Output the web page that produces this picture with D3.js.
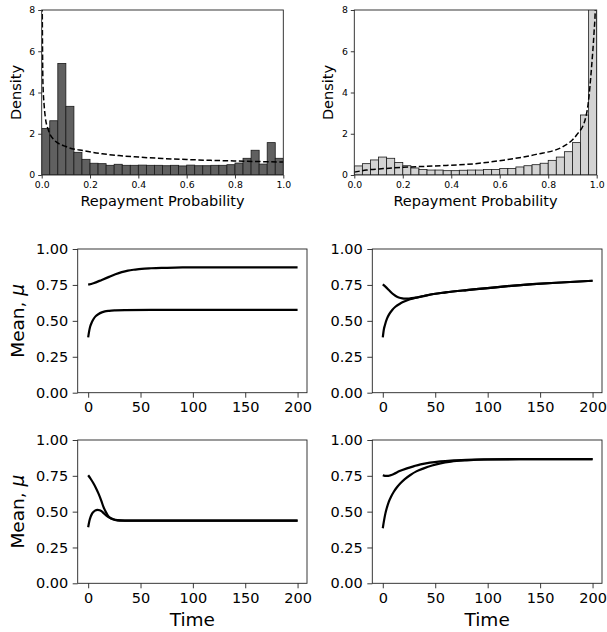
<!DOCTYPE html>
<html>
<head>
<meta charset="utf-8">
<script src="https://cdn.jsdelivr.net/npm/d3@7"></script>
<style>
body { margin: 0; background: #fff; }
svg text { font-family: "DejaVu Sans", sans-serif; fill: #000; }
</style>
</head>
<body>
<div class="canvas"></div>
<script>
'use strict';

// Histogram densities, 30 equal bins over [0, 1]
var histLeft = [2.26, 2.63, 5.41, 3.33, 1.10, 0.76, 0.57, 0.55, 0.47, 0.52,
  0.47, 0.47, 0.48, 0.47, 0.47, 0.45, 0.47, 0.44, 0.48, 0.45,
  0.45, 0.47, 0.47, 0.50, 0.58, 0.81, 1.20, 0.53, 1.57, 0.81];
var histRight = [0.44, 0.55, 0.73, 0.87, 0.81, 0.61, 0.45, 0.34, 0.27, 0.24,
  0.24, 0.21, 0.21, 0.23, 0.24, 0.24, 0.27, 0.27, 0.32, 0.32,
  0.39, 0.45, 0.50, 0.57, 0.71, 0.87, 1.13, 1.57, 2.91, 9.5];

// Dashed density curves, [x, density]
var curveLeft = [[0.002, 8.6], [0.005, 4.5], [0.01, 3.4], [0.015, 2.8], [0.027, 2.2],
  [0.05, 1.72], [0.1, 1.38], [0.18, 1.17], [0.25, 1.03], [0.32, 0.94], [0.4, 0.87],
  [0.5, 0.80], [0.6, 0.75], [0.7, 0.71], [0.8, 0.68], [0.9, 0.65], [1.0, 0.63]];
var curveRight = [[0.0, 0.14], [0.05, 0.24], [0.12, 0.31], [0.2, 0.37], [0.33, 0.44],
  [0.5, 0.55], [0.615, 0.72], [0.75, 1.0], [0.86, 1.37], [0.917, 1.94], [0.952, 2.67],
  [0.965, 3.48], [0.979, 5.26], [0.989, 6.9], [0.994, 8.0], [0.997, 9.5]];

// Mean trajectories, [time, mean]
var p1Upper = [[0, 0.752], [5, 0.762], [13, 0.785], [20, 0.806], [26, 0.824], [32, 0.839],
  [38, 0.850], [45, 0.857], [51, 0.862], [60, 0.866], [70, 0.869], [83, 0.871], [100, 0.872], [200, 0.872]];
var p1Lower = [[0, 0.385], [1, 0.43], [2, 0.462], [3.5, 0.49], [5, 0.511], [7, 0.531], [10, 0.548],
  [13, 0.559], [16, 0.566], [20, 0.570], [26, 0.573], [35, 0.575], [60, 0.576], [200, 0.576]];
var p2Upper = [[0, 0.754], [3, 0.735], [6, 0.713], [10.5, 0.682], [14, 0.666], [17, 0.659], [20, 0.655],
  [23, 0.654], [26, 0.656], [30, 0.660], [35, 0.666], [40, 0.674], [48.5, 0.687], [60, 0.698],
  [80, 0.714], [112, 0.737], [143, 0.755], [170, 0.767], [200, 0.779]];
var p2Lower = [[0, 0.385], [1, 0.44], [2, 0.47], [4, 0.515], [6, 0.545], [9, 0.576], [12, 0.598],
  [17, 0.622], [21, 0.636], [26, 0.650], [32, 0.662], [39, 0.673], [48.5, 0.687], [60, 0.698],
  [80, 0.714], [112, 0.737], [143, 0.755], [170, 0.767], [200, 0.779]];
var p3Upper = [[0, 0.754], [2.5, 0.728], [5, 0.698], [7.5, 0.664], [10, 0.624], [12.5, 0.577],
  [14.5, 0.535], [17, 0.496], [19, 0.470], [22, 0.452], [25.6, 0.442], [30, 0.438], [40, 0.437], [200, 0.437]];
var p3Lower = [[0, 0.391], [1, 0.43], [2.4, 0.465], [4, 0.490], [6.5, 0.507], [9, 0.513], [11, 0.510],
  [13, 0.502], [15, 0.488], [17.7, 0.470], [21, 0.455], [24, 0.447], [28, 0.441], [35, 0.438], [200, 0.437]];
var p4Upper = [[0, 0.754], [2, 0.750], [4.2, 0.749], [7, 0.753], [10.5, 0.763], [16, 0.783], [23, 0.802],
  [30, 0.818], [36, 0.830], [45, 0.842], [55, 0.851], [65, 0.857], [80, 0.862], [100, 0.865], [130, 0.867], [200, 0.867]];
var p4Lower = [[0, 0.384], [1, 0.43], [2.5, 0.488], [4, 0.53], [5.7, 0.569], [8, 0.606], [10.5, 0.639],
  [13.5, 0.670], [16.8, 0.698], [21, 0.727], [26.3, 0.756], [32, 0.781], [39, 0.802], [47, 0.822],
  [55, 0.837], [65, 0.849], [80, 0.858], [100, 0.864], [130, 0.866], [200, 0.867]];

// Tick values
var histXTicks = [0, 0.2, 0.4, 0.6, 0.8, 1.0];
var histYTicks = [0, 2, 4, 6, 8];
var timeTicks = [0, 50, 100, 150, 200];
var meanTicks = [0, 0.25, 0.5, 0.75, 1.0];

var svg = d3.select('.canvas').append('svg').attr('width', 607).attr('height', 632);

function frame(g, w, h) {
  g.append('rect').attr('width', w).attr('height', h)
    .attr('fill', 'none').attr('stroke', '#222').attr('stroke-width', 0.9);
}

function styleAxis(g, size) {
  g.select('.domain').remove();
  g.selectAll('line').attr('stroke', '#222').attr('stroke-width', 0.9);
  g.selectAll('text').attr('font-family', '"DejaVu Sans", sans-serif').attr('font-size', size).attr('fill', '#000');
}

// Histogram panel
function drawHist(id, left, top, width, height, values, fill, curve) {
  var g = svg.append('g').attr('transform', 'translate(' + left + ', ' + top + ')');
  var x = d3.scaleLinear().domain([0, 1]).range([0, width]);
  var y = d3.scaleLinear().domain([0, 8]).range([height, 0]);
  var n = values.length;

  g.append('clipPath').attr('id', id).append('rect').attr('width', width).attr('height', height);
  var plot = g.append('g').attr('clip-path', 'url(#' + id + ')');

  plot.selectAll('rect').data(values).enter().append('rect')
    .attr('x', function (d, i) { return x(i / n); })
    .attr('width', function (d, i) { return x((i + 1) / n) - x(i / n); })
    .attr('y', function (d) { return y(d); })
    .attr('height', function (d) { return height - y(d); })
    .attr('fill', fill).attr('stroke', '#1a1a1a').attr('stroke-width', 0.8);

  var line = d3.line().x(function (d) { return x(d[0]); }).y(function (d) { return y(d[1]); })
    .curve(d3.curveMonotoneX);
  plot.append('path').datum(curve).attr('d', line)
    .attr('fill', 'none').attr('stroke', '#000').attr('stroke-width', 1.5).attr('stroke-dasharray', '5.5,2.6');

  frame(g, width, height);

  var xAxis = d3.axisBottom(x).tickValues(histXTicks).tickFormat(d3.format('.1f')).tickSize(3.5).tickPadding(3);
  g.append('g').attr('transform', 'translate(0, ' + height + ')').call(xAxis).call(styleAxis, 9.3);
  var yAxis = d3.axisLeft(y).tickValues(histYTicks).tickFormat(d3.format('d')).tickSize(3.5).tickPadding(3);
  g.append('g').call(yAxis).call(styleAxis, 9.3);

  g.append('text').attr('x', width / 2).attr('y', height + 31).attr('text-anchor', 'middle')
    .attr('font-size', 14.5).text('Repayment Probability');
  g.append('text').attr('transform', 'translate(-21, ' + (height / 2) + ') rotate(-90)')
    .attr('text-anchor', 'middle').attr('font-size', 14.5).text('Density');
}

// Mean trajectory panel
function drawLines(left, top, width, height, series, showYLabel, showXLabel) {
  var g = svg.append('g').attr('transform', 'translate(' + left + ', ' + top + ')');
  var x = d3.scaleLinear().domain([-10, 209]).range([0, width]);
  var y = d3.scaleLinear().domain([0, 1]).range([height, 0]);

  var line = d3.line().x(function (d) { return x(d[0]); }).y(function (d) { return y(d[1]); })
    .curve(d3.curveMonotoneX);
  g.selectAll('path.traj').data(series).enter().append('path').attr('class', 'traj')
    .attr('d', line).attr('fill', 'none').attr('stroke', '#000').attr('stroke-width', 2.2);

  frame(g, width, height);

  var xAxis = d3.axisBottom(x).tickValues(timeTicks).tickSize(5).tickPadding(4.5);
  g.append('g').attr('transform', 'translate(0, ' + height + ')').call(xAxis).call(styleAxis, 14.5);
  var yAxis = d3.axisLeft(y).tickValues(meanTicks).tickFormat(d3.format('.2f')).tickSize(5).tickPadding(4.5);
  g.append('g').call(yAxis).call(styleAxis, 14.5);

  if (showYLabel) {
    var t = g.append('text').attr('transform', 'translate(-54, ' + (height / 2) + ') rotate(-90)')
      .attr('text-anchor', 'middle').attr('font-size', 18.5);
    t.append('tspan').text('Mean, ');
    t.append('tspan').attr('font-style', 'italic').text('\u03bc');
  }
  if (showXLabel) {
    g.append('text').attr('x', width / 2).attr('y', height + 43).attr('text-anchor', 'middle')
      .attr('font-size', 18.5).text('Time');
  }
}

drawHist('clipL', 41.7, 10, 241.6, 165, histLeft, '#606060', curveLeft);
drawHist('clipR', 354.3, 10, 242.4, 165, histRight, '#d3d3d3', curveRight);

drawLines(77.7, 249, 229.3, 143.7, [p1Upper, p1Lower], true, false);
drawLines(372.3, 249, 229.7, 143.7, [p2Upper, p2Lower], false, false);
drawLines(77.7, 440, 229.3, 143.3, [p3Upper, p3Lower], true, true);
drawLines(372.3, 440, 229.7, 143.3, [p4Upper, p4Lower], false, true);
</script>
</body>
</html>
